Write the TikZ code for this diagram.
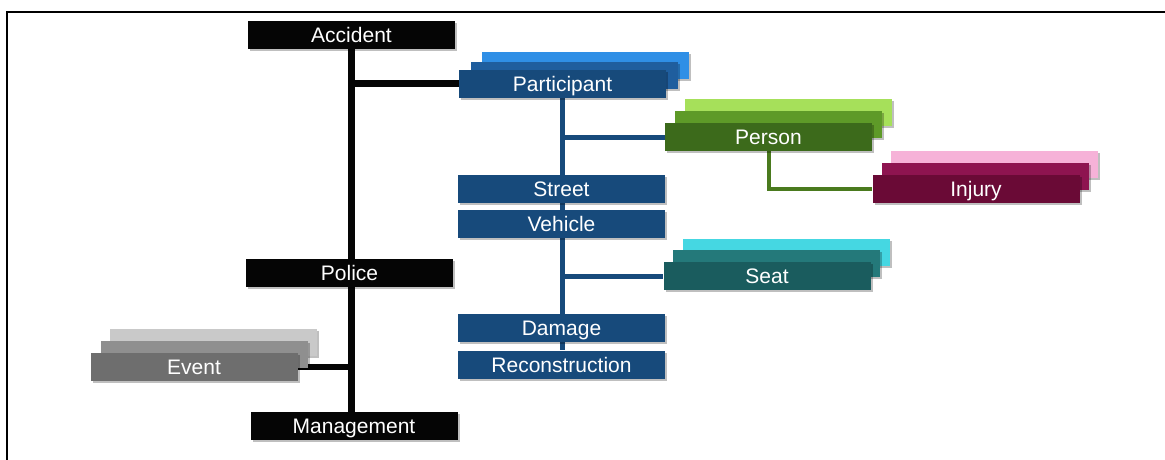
\documentclass[tikz,border=0pt]{standalone}
\usepackage{fontspec}
\setmainfont{Liberation Sans}
\usetikzlibrary{shadows,backgrounds}

% palette
\definecolor{blkbox}{HTML}{050505}
\definecolor{blueF}{HTML}{174A7B}
\definecolor{blueM}{HTML}{1F5E9E}
\definecolor{blueB}{HTML}{2F8FE6}
\definecolor{greenF}{HTML}{3C6A1B}
\definecolor{greenM}{HTML}{5E9A28}
\definecolor{greenB}{HTML}{A6E05A}
\definecolor{greenL}{HTML}{4A7A1E}
\definecolor{injF}{HTML}{6A0A36}
\definecolor{injM}{HTML}{8E1450}
\definecolor{injB}{HTML}{F6B2D8}
\definecolor{seatF}{HTML}{1A5C5E}
\definecolor{seatM}{HTML}{24797A}
\definecolor{seatB}{HTML}{45D7E2}
\definecolor{evtF}{HTML}{6E6E6E}
\definecolor{evtM}{HTML}{8F8F8F}
\definecolor{evtB}{HTML}{C9C9C9}

\begin{document}
\begin{tikzpicture}[x=1pt,y=-1pt,
  softshadow/.style={drop shadow={shadow xshift=2pt,shadow yshift=-2pt,opacity=0.25,fill=black}},
  box/.style={minimum width=207pt,minimum height=28pt,inner sep=0pt,
    text=white,font=\fontsize{21}{25}\selectfont,
    text height=15pt,text depth=0pt,softshadow},
  layer/.style={minimum width=207pt,minimum height=27pt,inner sep=0pt,softshadow},
  trunk/.style={line width=7pt,blkbox},
  twig/.style={line width=5.5pt,blkbox},
  bluelink/.style={line width=5pt,blueF},
  greenlink/.style={line width=4pt,greenL}]

\useasboundingbox (0,0) rectangle (1165,460);

% frame on the top and left edges
\draw[line width=2.5pt] (7,460) -- (7,12) -- (1165,12);

% main column
\node[box,fill=blkbox] (acc) at (351.5,35) {Accident};
\node[box,fill=blkbox] (police) at (349.5,272.5) {Police};
\node[box,fill=blkbox] (mgmt) at (354,426) {Management};

% participant stack
\node[layer,fill=blueB] (partB) at (585,66) {};
\node[layer,fill=blueM] (partM) at (574,75.5) {};
\node[box,fill=blueF] (part) at (562.5,84) {Participant};

% person stack
\node[layer,fill=greenB] (persB) at (788.5,112.5) {};
\node[layer,fill=greenM] (persM) at (778.5,124.5) {};
\node[box,fill=greenF] (pers) at (768.5,137) {Person};

% injury stack
\node[layer,fill=injB] (injB) at (994,164) {};
\node[layer,fill=injM] (injM) at (985,176.5) {};
\node[box,fill=injF] (inj) at (976,188.5) {Injury};

% participant column
\node[box,fill=blueF] (street) at (561.5,188.5) {Street};
\node[box,fill=blueF] (veh) at (561.5,223.5) {Vehicle};
\node[box,fill=blueF] (dmg) at (561.5,328) {Damage};
\node[box,fill=blueF] (recon) at (561.5,364.5) {Reconstruction};

% seat stack
\node[layer,fill=seatB] (seatB) at (786.5,252.5) {};
\node[layer,fill=seatM] (seatM) at (776.5,263.5) {};
\node[box,fill=seatF] (seat) at (767,276) {Seat};

% event stack
\node[layer,fill=evtB] (evtB) at (213,342.5) {};
\node[layer,fill=evtM] (evtM) at (204,354) {};
\node[box,fill=evtF] (evt) at (194,367) {Event};

% connectors behind the boxes
\begin{scope}[on background layer]
  \draw[trunk] (acc.south) -- (acc.south |- mgmt.north);
  \draw[trunk] (acc.south |- part.west) -- (part.west);
  \draw[twig] (evt.east) -- (evt.east -| acc.south);
  \draw[bluelink] (part.south) -- (part.south |- recon.north);
  \draw[bluelink] (part.south |- pers.west) -- (pers.west);
  \draw[bluelink] (part.south |- seat.west) -- (seat.west);
  \draw[greenlink] (pers.south) |- (inj.west);
\end{scope}
\end{tikzpicture}
\end{document}
